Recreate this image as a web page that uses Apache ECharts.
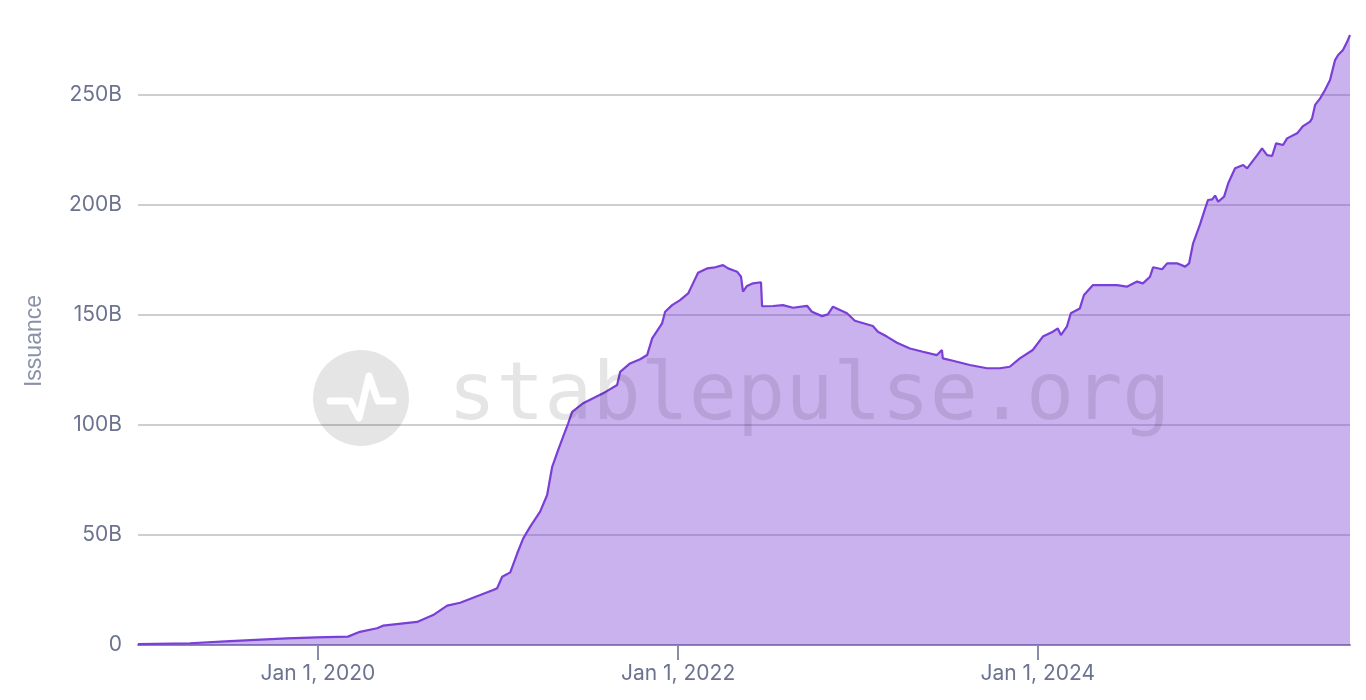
<!DOCTYPE html>
<html>
<head>
<meta charset="utf-8">
<script src="https://cdn.jsdelivr.net/npm/echarts@6/dist/echarts.min.js"></script>
<style>
html,body{margin:0;padding:0;background:#fff;}
#chart{width:1366px;height:700px;}
</style>
</head>
<body>
<div id="chart"></div>
<script>
// Dates as fractional years, values in billions (B)
const yearFrac = [
  2019.000, 2019.289, 2019.511, 2019.828, 2019.994, 2020.167, 2020.233, 2020.328, 2020.361, 2020.550,
  2020.639, 2020.717, 2020.789, 2020.900, 2020.972, 2020.994, 2021.022, 2021.067, 2021.106, 2021.139,
  2021.178, 2021.233, 2021.272, 2021.300, 2021.333, 2021.361, 2021.389, 2021.411, 2021.472, 2021.583,
  2021.661, 2021.678, 2021.733, 2021.789, 2021.828, 2021.856, 2021.911, 2021.928, 2021.967, 2022.011,
  2022.056, 2022.083, 2022.111, 2022.161, 2022.206, 2022.250, 2022.278, 2022.328, 2022.350, 2022.361,
  2022.383, 2022.417, 2022.461, 2022.467, 2022.528, 2022.583, 2022.639, 2022.717, 2022.744, 2022.800,
  2022.833, 2022.861, 2022.900, 2022.939, 2022.983, 2023.083, 2023.111, 2023.161, 2023.217, 2023.289,
  2023.361, 2023.439, 2023.467, 2023.472, 2023.528, 2023.622, 2023.717, 2023.789, 2023.844, 2023.900,
  2023.972, 2024.028, 2024.083, 2024.111, 2024.128, 2024.161, 2024.183, 2024.233, 2024.256, 2024.306,
  2024.383, 2024.439, 2024.494, 2024.550, 2024.583, 2024.622, 2024.639, 2024.689, 2024.717, 2024.772,
  2024.817, 2024.839, 2024.861, 2024.900, 2024.928, 2024.944, 2024.967, 2024.983, 2025.000, 2025.033,
  2025.056, 2025.094, 2025.139, 2025.161, 2025.217, 2025.244, 2025.272, 2025.300, 2025.322, 2025.361,
  2025.383, 2025.439, 2025.472, 2025.511, 2025.522, 2025.539, 2025.567, 2025.594, 2025.622, 2025.650,
  2025.667, 2025.694, 2025.717, 2025.733
];
const issuance = [
  0.4, 0.8, 1.8, 3.0, 3.5, 3.8, 6.0, 7.6, 8.8, 10.5,
  13.6, 17.9, 19.2, 22.7, 25.0, 25.8, 31.0, 33.0, 41.7, 48.5,
  53.8, 60.6, 68.2, 81.0, 88.6, 94.7, 100.8, 106.0, 109.9, 114.4,
  118.2, 124.2, 128.0, 129.9, 131.8, 139.4, 146.2, 151.5, 154.5, 156.8,
  159.8, 164.4, 169.2, 171.2, 171.7, 172.7, 171.2, 169.7, 167.4, 160.6,
  163.2, 164.4, 164.9, 154.0, 154.1, 154.5, 153.3, 154.2, 151.5, 149.5,
  150.3, 153.8, 152.3, 150.8, 147.4, 145.0, 142.4, 140.2, 137.4, 134.8,
  133.3, 131.8, 134.1, 130.3, 129.2, 127.3, 125.8, 125.8, 126.5, 130.3,
  134.1, 140.2, 142.4, 143.9, 140.9, 144.7, 150.8, 153.0, 159.1, 163.6,
  163.6, 163.6, 162.9, 165.2, 164.4, 167.4, 171.7, 170.8, 173.5, 173.5,
  172.0, 173.5, 182.6, 191.3, 198.5, 202.3, 202.6, 204.3, 201.5, 203.8,
  209.9, 216.7, 218.2, 216.7, 222.7, 225.8, 222.7, 222.3, 228.0, 227.3,
  230.3, 232.6, 235.9, 237.9, 239.4, 245.5, 248.5, 252.3, 256.8, 265.9,
  268.2, 270.5, 274.2, 277.3
];
const xTickDates = ['2020-01-01', '2022-01-01', '2024-01-01'];
const yTicks = [0, 50, 100, 150, 200, 250];
const monthNames = ['Jan','Feb','Mar','Apr','May','Jun','Jul','Aug','Sep','Oct','Nov','Dec'];

function fracToTime(f) {
  const y = Math.floor(f);
  const start = Date.UTC(y, 0, 1), end = Date.UTC(y + 1, 0, 1);
  return start + (f - y) * (end - start);
}
const seriesData = yearFrac.map((f, i) => [fracToTime(f), issuance[i]]);
const xTickTimes = xTickDates.map(d => Date.parse(d + 'T00:00:00Z'));

const chart = echarts.init(document.getElementById('chart'));
const labelColor = '#6c7390';
chart.setOption({
  animation: false,
  grid: { left: 138, right: 16, top: 35, bottom: 55 },
  xAxis: {
    type: 'value',
    min: seriesData[0][0],
    max: seriesData[seriesData.length - 1][0],
    scale: true,
    splitLine: { show: false },
    axisLine: { lineStyle: { color: '#868da4', width: 2 } },
    axisTick: { show: true, customValues: xTickTimes, length: 15, lineStyle: { color: '#868da4', width: 2 } },
    axisLabel: {
      customValues: xTickTimes,
      margin: 18,
      color: labelColor,
      fontFamily: 'Inter',
      fontSize: 21,
      formatter: function (v) {
        const d = new Date(v);
        return monthNames[d.getUTCMonth()] + ' ' + d.getUTCDate() + ', ' + d.getUTCFullYear();
      }
    }
  },
  yAxis: {
    type: 'value',
    min: 0,
    max: 'dataMax',
    interval: 50,
    axisLine: { show: false },
    axisTick: { show: false },
    splitLine: { showMaxLine: false, showMinLine: false, lineStyle: { color: '#cfcfd3', width: 2 } },
    axisLabel: {
      margin: 16,
      color: labelColor,
      fontFamily: 'Inter',
      fontSize: 21,
      customValues: yTicks,
      formatter: v => v === 0 ? '0' : v + 'B'
    }
  },
  graphic: [
    {
      type: 'text', x: 35, y: 341, rotation: Math.PI / 2, z: 10,
      style: { text: 'Issuance', fill: '#8a90a8', font: '23px "Liberation Sans", Arial, sans-serif', align: 'center', verticalAlign: 'middle' }
    },
    {
      type: 'circle', shape: { cx: 361, cy: 398, r: 48 }, z: 100, silent: true,
      style: { fill: 'rgba(0,0,0,0.1)' }
    },
    {
      type: 'polyline', z: 101, silent: true,
      shape: { points: [[330, 401], [350, 401], [359, 418], [369, 376], [378, 401], [393, 401]] },
      style: { stroke: '#ffffff', lineWidth: 7, fill: null, lineCap: 'round', lineJoin: 'round' }
    },
    {
      type: 'text', x: 448, y: 398, z: 100, silent: true,
      style: { text: 'stablepulse.org', fill: 'rgba(0,0,0,0.1)', font: '80px "DejaVu Sans Mono", monospace', verticalAlign: 'middle', align: 'left' }
    }
  ],
  series: [{
    type: 'line',
    data: seriesData,
    showSymbol: false,
    symbol: 'none',
    lineStyle: { color: '#7a3fd6', width: 2.2 },
    itemStyle: { color: '#7a3fd6' },
    areaStyle: { color: '#7a3fd6', opacity: 0.4 }
  }]
});
</script>
</body>
</html>
